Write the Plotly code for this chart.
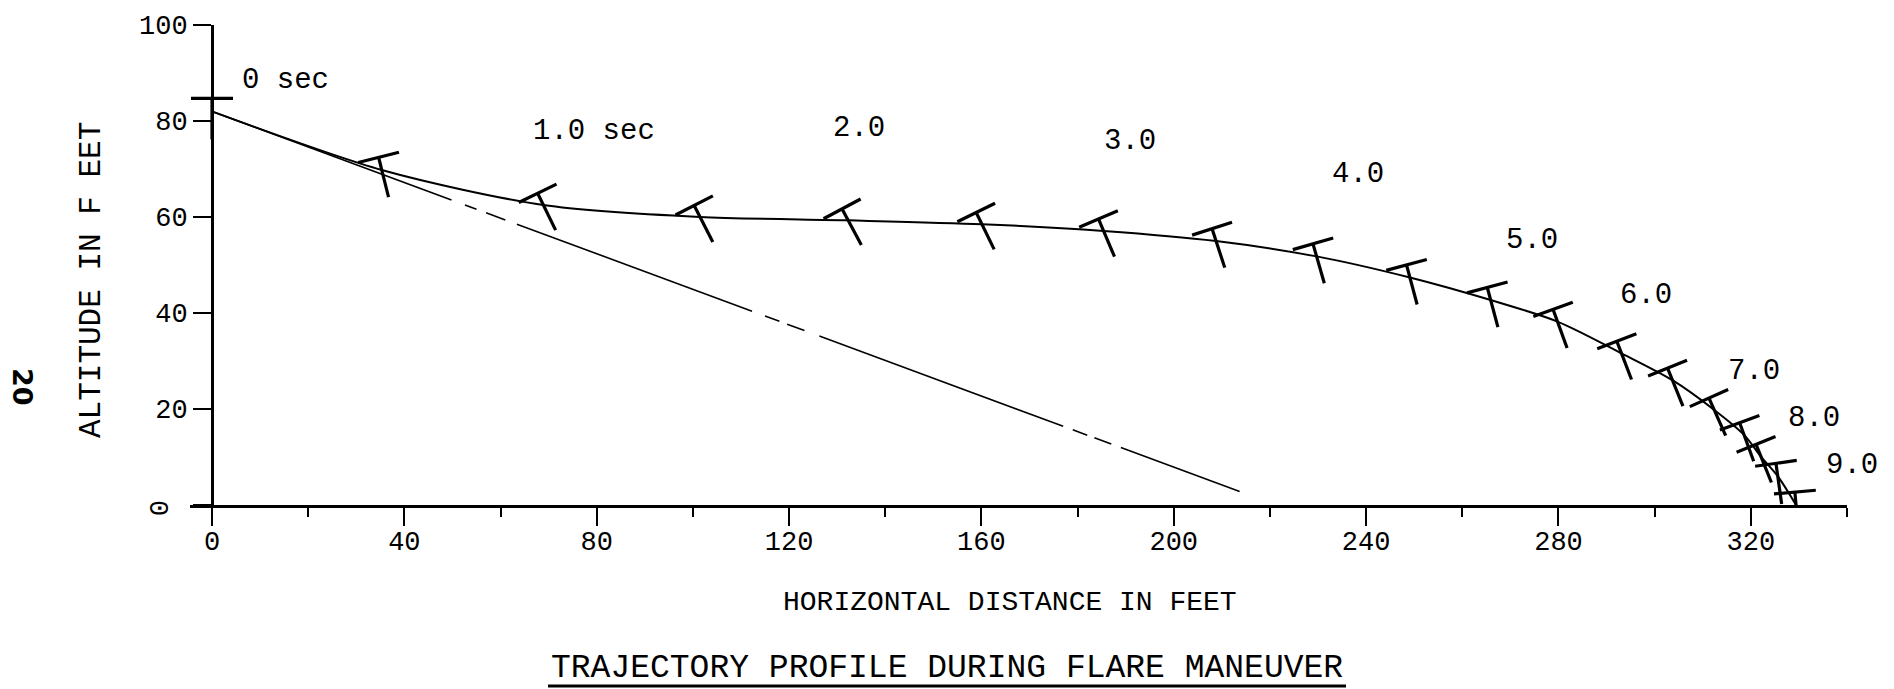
import numpy as np
import plotly.graph_objects as go

# ---------------- data ----------------
time_s = [0.0, 0.5, 1.0, 1.5, 2.0, 2.5, 3.0, 3.5, 4.0, 4.5,
          5.0, 5.5, 6.0, 6.5, 7.0, 7.5, 8.0, 8.5, 9.0]
dist_ft = [0.0, 35.3, 68.9, 101.5, 132.3, 160.1, 185.4, 208.8, 229.7, 249.1,
           265.9, 279.8, 293.1, 303.7, 312.4, 318.6, 322.1, 325.6, 329.4]
alt_ft = [82.0, 69.8, 62.5, 60.0, 59.3, 58.5, 57.1, 55.0, 51.8, 47.4,
          42.7, 38.2, 31.6, 26.0, 19.8, 14.6, 10.1, 6.0, 0.0]
pitch_deg = [0, 14, 26, 27, 28, 26, 23, 18, 16, 15,
             15, 20, 21, 22, 24, 20, 22, 8, 5]

# straight reference path (constant glide path)
ref_x = [0.0, 213.7]
ref_alt = [82.0, 2.8]
# drawn (solid) pieces of the reference path, start/end distance
ref_piece_start = [0.0, 52.6, 57.0, 63.4, 115.0, 119.6, 126.3, 179.0, 183.5, 189.0]
ref_piece_end = [49.8, 55.0, 61.0, 112.3, 118.0, 123.2, 177.0, 182.0, 187.0, 213.7]

label_text = ["0 sec", "1.0 sec", "2.0", "3.0", "4.0", "5.0", "6.0", "7.0", "8.0", "9.0"]
label_time = [0.0, 1.0, 2.0, 3.0, 4.0, 5.0, 6.0, 7.0, 8.0, 9.0]

x_ticks = [0, 40, 80, 120, 160, 200, 240, 280, 320]
y_ticks = [0, 20, 40, 60, 80, 100]

# ---------------- geometry / layout ----------------
W, H = 1894, 689
X0_PX, X340_PX = 212, 1847          # pixel columns of x=0 and x=340
Y0_PX, Y100_PX = 505, 25            # pixel rows of y=0 and y=100
kx = (X340_PX - X0_PX) / 340.0
ky = (Y0_PX - Y100_PX) / 100.0
LEFT_EXT = 22                       # plot area starts a bit left of x=0
ML = X0_PX - LEFT_EXT
MR = W - X340_PX
MT = Y100_PX
MB = H - Y0_PX
PW = W - ML - MR
PH = H - MT - MB
XR = [-LEFT_EXT / kx, 340]
YR = [0, 100]


def pxx(px):
    return (px - ML) / PW


def pxy(py):
    return (Y0_PX - py) / PH


FONT_MONO = "Liberation Mono, Courier New, monospace"

fig = go.Figure()

# reference straight path (with dashed breaks)
rx, ry = [], []
for s, e in zip(ref_piece_start, ref_piece_end):
    rx += [s, e, None]
    ry += [float(np.interp(s, ref_x, ref_alt)), float(np.interp(e, ref_x, ref_alt)), None]
fig.add_trace(go.Scatter(x=rx, y=ry, mode="lines",
                         line=dict(color="black", width=1.6),
                         hoverinfo="skip", showlegend=False))

# flare trajectory
fig.add_trace(go.Scatter(x=dist_ft, y=alt_ft, mode="lines",
                         line=dict(color="black", width=2, shape="spline", smoothing=0.8),
                         hoverinfo="skip", showlegend=False))

# attitude "T" symbols at each half second
tx, ty = [], []
A_UP, B_DN, HALF = 13.0, 28.0, 21.0
for x, y, a in zip(dist_ft, alt_ft, pitch_deg):
    th = np.radians(a)
    px, py = x * kx, y * ky
    dx, dy = np.sin(th), -np.cos(th)          # stem direction (downwards)
    wx, wy = np.cos(th), np.sin(th)           # bar direction
    topx, topy = px - A_UP * dx, py - A_UP * dy
    botx, boty = px + B_DN * dx, py + B_DN * dy
    tx += [topx / kx, botx / kx, None]
    ty += [topy / ky, boty / ky, None]
    tx += [(topx - HALF * wx) / kx, (topx + HALF * wx) / kx, None]
    ty += [(topy - HALF * wy) / ky, (topy + HALF * wy) / ky, None]
fig.add_trace(go.Scatter(x=tx, y=ty, mode="lines",
                         line=dict(color="black", width=3.2),
                         hoverinfo="skip", showlegend=False))

# time labels (offsets in pixels from the marked point)
label_dx = [28, -12, -17, -2, 13, 13, -3, 12, 25, 28]
label_dy = [31, 74, 92, 89, 82, 60, 58, 38, 38, 40]
annotations = []
for txt, t, ox, oy in zip(label_text, label_time, label_dx, label_dy):
    i = time_s.index(t)
    annotations.append(dict(x=dist_ft[i], y=alt_ft[i], xref="x", yref="y",
                            text=txt, showarrow=False, xanchor="left", yanchor="middle",
                            xshift=ox, yshift=oy,
                            font=dict(family=FONT_MONO, size=29, color="black")))

# axis titles, title, page number, rotated zero
annotations += [
    dict(text="HORIZONTAL DISTANCE IN FEET", xref="paper", yref="paper",
         x=pxx(1010), y=pxy(602), showarrow=False, xanchor="center", yanchor="middle",
         font=dict(family=FONT_MONO, size=28, color="black")),
    dict(text="TRAJECTORY PROFILE DURING FLARE MANEUVER", xref="paper", yref="paper",
         x=pxx(947), y=pxy(668), showarrow=False, xanchor="center", yanchor="middle",
         font=dict(family=FONT_MONO, size=33, color="black")),
    dict(text="ALTITUDE IN F EET", xref="paper", yref="paper",
         x=pxx(91), y=pxy(280), showarrow=False, xanchor="center", yanchor="middle",
         textangle=-90, font=dict(family=FONT_MONO, size=31, color="black")),
    dict(text="<b>20</b>", xref="paper", yref="paper",
         x=pxx(23), y=pxy(387), showarrow=False, xanchor="center", yanchor="middle",
         textangle=90, font=dict(family="DejaVu Sans, sans-serif", size=27, color="black")),
    dict(text="0", xref="paper", yref="paper",
         x=pxx(157), y=pxy(508), showarrow=False, xanchor="center", yanchor="middle",
         textangle=90, font=dict(family=FONT_MONO, size=27, color="black")),
]

shapes = [dict(type="line", xref="paper", yref="paper",
               x0=pxx(548), x1=pxx(1346), y0=pxy(686), y1=pxy(686),
               line=dict(color="black", width=3))]

fig.update_layout(
    width=W, height=H,
    margin=dict(l=ML, r=MR, t=MT, b=MB, pad=0),
    paper_bgcolor="white", plot_bgcolor="white",
    showlegend=False,
    annotations=annotations, shapes=shapes,
    xaxis=dict(range=XR, tickmode="array", tickvals=x_ticks,
               ticktext=[str(v) for v in x_ticks],
               ticks="outside", ticklen=18, tickwidth=2, tickcolor="black",
               ticklabelstandoff=-8,
               showline=True, linewidth=3, linecolor="black",
               showgrid=False, zeroline=False, fixedrange=True,
               tickfont=dict(family=FONT_MONO, size=27, color="black"),
               minor=dict(tickmode="linear", tick0=0, dtick=20, ticks="outside",
                          ticklen=9, tickwidth=2, tickcolor="black", showgrid=False)),
    yaxis=dict(range=YR, tickmode="array", tickvals=y_ticks,
               ticktext=["" if v == 0 else str(v) for v in y_ticks],
               anchor="free", position=LEFT_EXT / PW,
               ticks="outside", ticklen=18, tickwidth=2, tickcolor="black",
               showline=True, linewidth=3, linecolor="black",
               showgrid=False, zeroline=False, fixedrange=True,
               tickfont=dict(family=FONT_MONO, size=27, color="black")),
)

fig.write_html("out.html")
